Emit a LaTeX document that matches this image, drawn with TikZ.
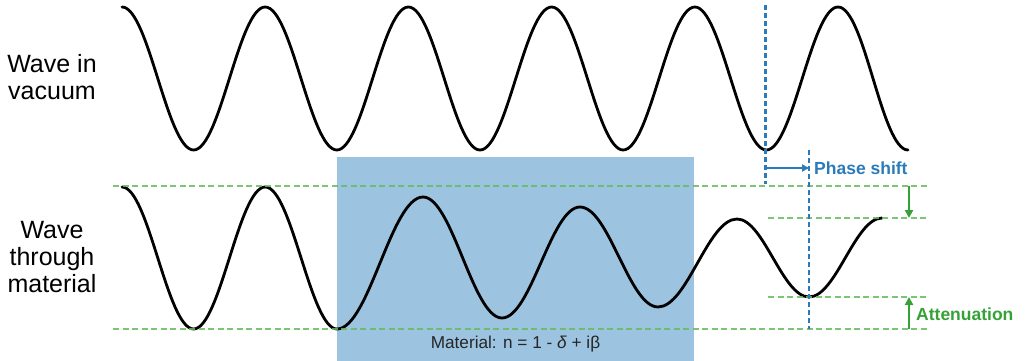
\documentclass[tikz,border=0pt]{standalone}
\usepackage{fontspec}
\setmainfont{Liberation Sans}
\usetikzlibrary{arrows.meta}
\definecolor{boxblue}{HTML}{9CC3DF}
\definecolor{dblue}{HTML}{2B7BBA}
\definecolor{lgreen}{HTML}{66BB5E}
\definecolor{dgreen}{HTML}{36A136}
\tikzset{
  wave/.style={line width=2.8pt, black, line join=round, line cap=round},
  gdash/.style={line width=2.5pt, lgreen, dash pattern=on 6pt off 3.5pt, opacity=0.85},
  bdash/.style={line width=2.5pt, dblue, dash pattern=on 5pt off 3pt},
  garrow/.style={line width=2.5pt, dgreen, -{Triangle[length=8pt,width=8pt]}},
  barrow/.style={line width=2.5pt, dblue, -{Triangle[length=7pt,width=7pt]}},
  bigtext/.style={font=\fontsize{25}{27}\selectfont, align=center, inner sep=0pt},
  lbl/.style={font=\fontsize{17.5}{20}\selectfont\bfseries, inner sep=0pt, anchor=base west},
}
\begin{document}
\begin{tikzpicture}[x=1pt, y=-1pt]
\useasboundingbox (0,0) rectangle (1025,361);
% material box
\fill[boxblue] (337,157) rectangle (694,361);
\node[font=\fontsize{17.2}{20}\selectfont, inner sep=0pt, anchor=base, text=black!85] (mat) at (515.5,348) {Material: n = 1 - \textit{δ} + iβ};
% labels
\node[bigtext] (vac) at (52,77) {Wave in\\vacuum};
\node[bigtext] (thr) at (52,257) {Wave\\through\\material};
% top wave
\draw[wave] (122,7)
  .. controls +(26.5,0) and +(-26.5,0) .. (193.6,150)
  .. controls +(26.5,0) and +(-26.5,0) .. (265.2,7)
  .. controls +(26.5,0) and +(-26.5,0) .. (336.8,150)
  .. controls +(26.5,0) and +(-26.5,0) .. (408.4,7)
  .. controls +(26.5,0) and +(-26.5,0) .. (480,150)
  .. controls +(26.5,0) and +(-26.5,0) .. (551.6,7)
  .. controls +(26.5,0) and +(-26.5,0) .. (623.2,150)
  .. controls +(26.5,0) and +(-26.5,0) .. (694.8,7)
  .. controls +(26.5,0) and +(-26.5,0) .. (766.4,150)
  .. controls +(26.5,0) and +(-26.5,0) .. (838,7)
  .. controls +(26.5,0) and +(-26.5,0) .. (908,150);
% bottom wave
\draw[wave] (122,187)
  .. controls +(26.5,0) and +(-26.5,0) .. (193.6,329)
  .. controls +(26.5,0) and +(-26.5,0) .. (265.2,187)
  .. controls +(26.5,0) and +(-26.5,0) .. (337,329)
  .. controls +(31.8,0) and +(-31.8,0) .. (423,197)
  .. controls +(29.2,0) and +(-29.2,0) .. (502,318)
  .. controls +(28.9,0) and +(-28.9,0) .. (580,207)
  .. controls +(28.9,0) and +(-28.9,0) .. (658,307)
  .. controls +(29.2,0) and +(-29.2,0) .. (737,219)
  .. controls +(26.6,0) and +(-26.6,0) .. (809,297)
  .. controls +(27,0) and +(-27,0) .. (882,218);
% green dashed reference lines
\coordinate (g1a) at (113,186); \coordinate (g1b) at (928,186);
\coordinate (g2a) at (113,329); \coordinate (g2b) at (928,329);
\coordinate (g3a) at (768,218); \coordinate (g3b) at (928,218);
\coordinate (g4a) at (768,297); \coordinate (g4b) at (928,297);
\draw[gdash] (g1a) -- (g1b);
\draw[gdash] (g2a) -- (g2b);
\draw[gdash] (g3a) -- (g3b);
\draw[gdash] (g4a) -- (g4b);
% blue dashed phase lines
\coordinate (b1a) at (765.5,5); \coordinate (b1b) at (765.5,184);
\coordinate (b2a) at (809,150); \coordinate (b2b) at (809,329);
\draw[bdash] (b1a) -- (b1b);
\draw[bdash] (b2a) -- (b2b);
% phase shift arrow
\coordinate (pa) at (765.5,168); \coordinate (pb) at (809,168);
\draw[barrow] (pa) -- (pb);
\node[lbl, text=dblue] (ps) at (814,174) {Phase shift};
% attenuation arrows
\coordinate (a1) at (909,186); \coordinate (a2) at (909,218);
\coordinate (a3) at (909,329); \coordinate (a4) at (909,297);
\draw[garrow] (a1) -- (a2);
\draw[garrow] (a3) -- (a4);
\node[lbl, text=dgreen] (att) at (916,320) {Attenuation};
\end{tikzpicture}
\end{document}
